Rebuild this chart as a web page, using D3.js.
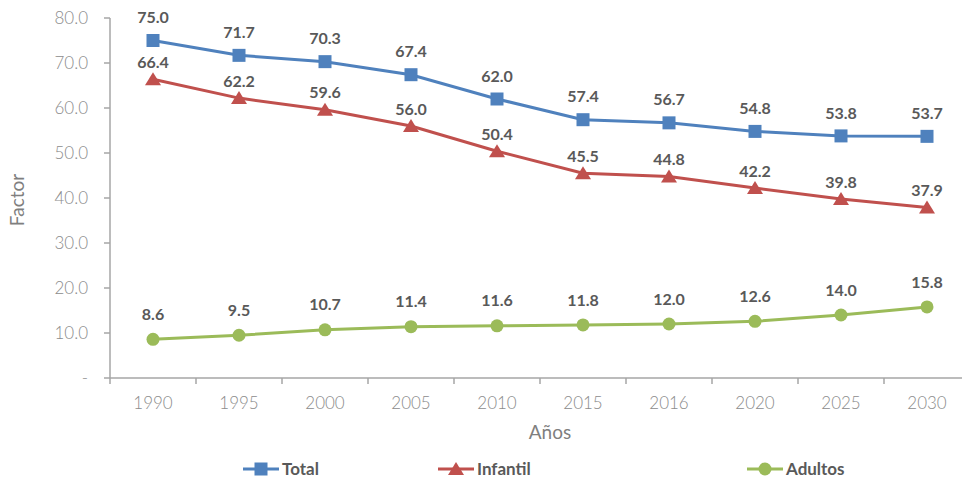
<!DOCTYPE html>
<html>
<head>
<meta charset="UTF-8">
<script src="https://d3js.org/d3.v7.min.js"></script>
<style>
	body { margin: 0; background: #fff; }
	svg { font-family: Lato, "Open Sans", sans-serif; }
	.ylab, .xlab { fill: #8c8c8c; font-size: 17px; font-weight: 300; }
	.dlab { fill: #595959; font-size: 16px; font-weight: bold; }
	.title { fill: #7f7f7f; font-size: 19px; }
	.leg { fill: #595959; font-size: 17px; font-weight: bold; }
</style>
</head>
<body>
<div id="chart"></div>
<script>
var years = ["1990","1995","2000","2005","2010","2015","2016","2020","2025","2030"];
var total = [75.0,71.7,70.3,67.4,62.0,57.4,56.7,54.8,53.8,53.7];
var infantil = [66.4,62.2,59.6,56.0,50.4,45.5,44.8,42.2,39.8,37.9];
var adultos = [8.6,9.5,10.7,11.4,11.6,11.8,12.0,12.6,14.0,15.8];
var yTicks = [0,10,20,30,40,50,60,70,80];

var W = 962, H = 482;
var plotL = 110, plotR = 970, plotT = 18, plotB = 378;

var svg = d3.select("#chart").append("svg").attr("width", W).attr("height", H);

var x = d3.scaleBand().domain(years).range([plotL, plotR]);
var y = d3.scaleLinear().domain([0, 80]).range([plotB, plotT]);

var axisColor = "#a6a6a6";

// y axis
svg.append("line").attr("x1", plotL).attr("x2", plotL).attr("y1", plotT).attr("y2", plotB)
	.attr("stroke", axisColor).attr("stroke-width", 1.5);
yTicks.forEach(function(t){
	svg.append("line").attr("x1", plotL - 6).attr("x2", plotL).attr("y1", y(t)).attr("y2", y(t))
		.attr("stroke", axisColor).attr("stroke-width", 1.5);
	svg.append("text").attr("class", "ylab").attr("x", 88).attr("y", y(t)).attr("dy", "0.35em")
		.attr("text-anchor", "end").text(t === 0 ? "-" : t.toFixed(1));
});

// x axis
svg.append("line").attr("x1", plotL).attr("x2", plotR).attr("y1", plotB).attr("y2", plotB)
	.attr("stroke", axisColor).attr("stroke-width", 1.5);
years.forEach(function(yr, i){
	svg.append("line").attr("x1", x(yr)).attr("x2", x(yr)).attr("y1", plotB).attr("y2", plotB + 6)
		.attr("stroke", axisColor).attr("stroke-width", 1.5);
	svg.append("text").attr("class", "xlab").attr("x", x(yr) + x.bandwidth() / 2).attr("y", 403)
		.attr("dy", "0.35em").attr("text-anchor", "middle").text(yr);
});

svg.append("text").attr("class", "title").attr("transform", "translate(24,200) rotate(-90)")
	.attr("text-anchor", "middle").text("Factor");
svg.append("text").attr("class", "title").attr("x", 550).attr("y", 439)
	.attr("text-anchor", "middle").text("Años");

var series = [
	{ name: "Total", data: total, color: "#4f81bd", shape: "square", off: 23 },
	{ name: "Infantil", data: infantil, color: "#c0504d", shape: "triangle", off: 17 },
	{ name: "Adultos", data: adultos, color: "#9bbb59", shape: "circle", off: 25 }
];

var cx = function(i){ return x(years[i]) + x.bandwidth() / 2; };

function marker(g, shape, px, py, color) {
	if (shape === "square") {
		g.append("rect").attr("x", px - 6.5).attr("y", py - 6.5).attr("width", 13).attr("height", 13).attr("fill", color);
	} else if (shape === "triangle") {
		g.append("path").attr("d", "M" + px + "," + (py - 7) + "L" + (px + 8) + "," + (py + 6) + "L" + (px - 8) + "," + (py + 6) + "Z").attr("fill", color);
	} else {
		g.append("circle").attr("cx", px).attr("cy", py).attr("r", 6.5).attr("fill", color);
	}
}

var line = d3.line().x(function(d, i){ return cx(i); }).y(function(d){ return y(d); });

series.forEach(function(s){
	var g = svg.append("g");
	g.append("path").datum(s.data).attr("d", line).attr("fill", "none")
		.attr("stroke", s.color).attr("stroke-width", 3);
	s.data.forEach(function(v, i){
		marker(g, s.shape, cx(i), y(v), s.color);
		g.append("text").attr("class", "dlab").attr("x", cx(i)).attr("y", y(v) - s.off)
			.attr("dy", "0.35em").attr("text-anchor", "middle").text(v.toFixed(1));
	});
});

// legend
var legX = [243, 438, 747];
series.forEach(function(s, i){
	var lx = legX[i], ly = 469;
	svg.append("line").attr("x1", lx).attr("x2", lx + 36).attr("y1", ly).attr("y2", ly)
		.attr("stroke", s.color).attr("stroke-width", 3);
	marker(svg, s.shape, lx + 18, ly, s.color);
	svg.append("text").attr("class", "leg").attr("x", lx + 39).attr("y", ly).attr("dy", "0.35em").text(s.name);
});
</script>
</body>
</html>
